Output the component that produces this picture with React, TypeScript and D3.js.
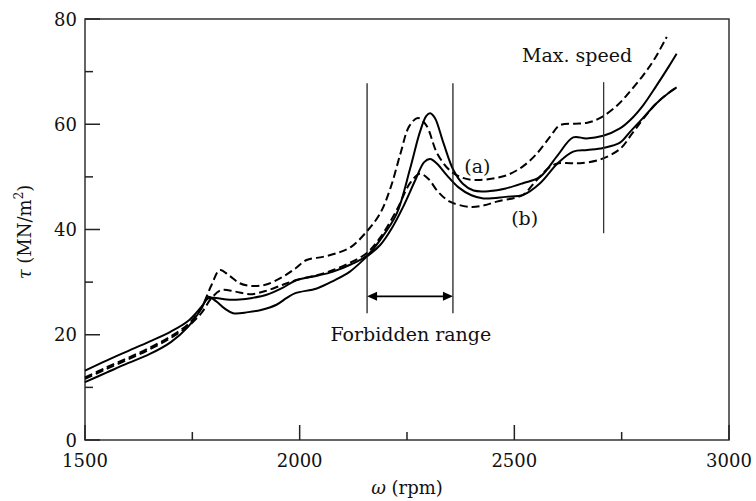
import React from "react";
import * as d3 from "d3";

// ---- data ----
const xTickValues = [1500, 2000, 2500, 3000];
const xMinorTicks = [1750, 2250, 2750];
const yTickValues = [0, 20, 40, 60, 80];
const yMinorTicks = [10, 30, 50, 70];

// (a) dashed
const dashedA_rpm = [1500, 1550, 1600, 1650, 1700, 1740, 1770, 1795, 1814, 1835, 1860, 1885, 1920, 1960, 1990, 2016, 2054, 2090, 2120, 2156, 2187, 2212, 2235, 2255, 2275, 2295, 2320, 2350, 2380, 2410, 2450, 2485, 2520, 2550, 2583, 2606, 2640, 2670, 2700, 2740, 2770, 2800, 2825, 2855];
const dashedA_tau = [11.9, 13.8, 15.6, 17.5, 19.7, 22.0, 25.0, 29.5, 32.3, 31.3, 29.8, 29.3, 29.5, 31.0, 32.6, 34.2, 34.8, 35.6, 36.7, 39.6, 43.0, 48.0, 54.5, 59.6, 61.2, 59.8, 54.5, 51.2, 49.8, 49.4, 49.7, 50.4, 52.0, 54.2, 57.6, 59.8, 60.1, 60.3, 61.2, 63.6, 66.3, 69.3, 72.2, 76.6];

// (a) solid
const solidA_rpm = [1500, 1550, 1600, 1650, 1700, 1740, 1770, 1787, 1805, 1830, 1860, 1890, 1923, 1960, 1993, 2040, 2078, 2120, 2156, 2190, 2226, 2257, 2280, 2295, 2304, 2315, 2335, 2358, 2380, 2405, 2443, 2480, 2520, 2560, 2600, 2637, 2668, 2707, 2746, 2770, 2800, 2830, 2860, 2878];
const solidA_tau = [13.2, 15.1, 16.9, 18.7, 20.6, 22.6, 25.2, 26.9, 27.0, 26.7, 26.7, 27.0, 27.6, 28.9, 30.4, 31.2, 32.0, 33.4, 35.0, 38.3, 43.0, 51.5, 58.5, 61.6, 62.1, 61.2, 56.4, 51.3, 48.7, 47.4, 47.3, 47.8, 48.8, 50.0, 54.0, 57.5, 57.3, 57.8, 59.2, 60.8, 63.6, 67.2, 71.0, 73.4];

// (b) dashed
const dashedB_rpm = [1500, 1550, 1600, 1650, 1700, 1740, 1770, 1795, 1818, 1850, 1884, 1920, 1961, 1993, 2040, 2078, 2120, 2156, 2187, 2226, 2257, 2280, 2300, 2322, 2350, 2397, 2430, 2459, 2500, 2521, 2550, 2583, 2603, 2630, 2653, 2700, 2746, 2775, 2800, 2830, 2860, 2878];
const dashedB_tau = [11.6, 13.5, 15.3, 17.2, 19.4, 21.6, 24.0, 27.0, 28.5, 28.2, 27.7, 28.3, 29.5, 30.4, 31.3, 32.3, 33.8, 35.5, 38.4, 43.7, 48.8, 50.6, 49.6, 47.2, 45.3, 44.3, 44.6, 45.3, 46.0, 46.6, 49.2, 51.9, 52.6, 52.6, 52.6, 53.3, 55.3, 58.3, 61.0, 63.9, 66.0, 67.0];

// (b) solid
const solidB_rpm = [1500, 1550, 1600, 1650, 1700, 1740, 1770, 1787, 1805, 1825, 1845, 1880, 1910, 1946, 1970, 1990, 2040, 2080, 2117, 2156, 2187, 2215, 2241, 2270, 2290, 2304, 2320, 2343, 2370, 2400, 2428, 2480, 2521, 2560, 2600, 2637, 2670, 2707, 2746, 2770, 2800, 2830, 2860, 2878];
const solidB_tau = [11.0, 12.8, 14.6, 16.3, 18.6, 21.5, 24.8, 27.2, 26.4, 25.0, 24.1, 24.3, 24.7, 25.7, 27.0, 27.9, 28.8, 30.3, 32.0, 34.8, 37.0, 40.3, 44.3, 49.5, 52.8, 53.4, 52.5, 50.3, 48.0, 46.5, 45.9, 46.2, 46.6, 48.8, 52.5, 54.8, 55.1, 55.5, 56.5, 58.6, 61.2, 63.9, 66.0, 67.0];

// annotations (data units)
const forbiddenRange = [2157, 2357];
const forbiddenLineSpan = [24.1, 67.8];
const forbiddenArrowTau = 27.3;
const maxSpeedRpm = 2708;
const maxSpeedLineSpan = [39.3, 68.0];

const W = 756;
const H = 501;
const FONT = "DejaVu Serif";

export default function App() {
  const x = d3.scaleLinear().domain([1500, 3000]).range([85, 729]);
  const y = d3.scaleLinear().domain([0, 80]).range([440, 19]);

  const line = d3
    .line<[number, number]>()
    .x((d) => x(d[0]))
    .y((d) => y(d[1]))
    .curve(d3.curveCatmullRom.alpha(0.5));

  const zip = (a: number[], b: number[]) => a.map((v, i) => [v, b[i]] as [number, number]);

  const series = [
    { pts: zip(dashedA_rpm, dashedA_tau), dash: "8,4" },
    { pts: zip(dashedB_rpm, dashedB_tau), dash: "8,4" },
    { pts: zip(solidA_rpm, solidA_tau), dash: undefined },
    { pts: zip(solidB_rpm, solidB_tau), dash: undefined },
  ];

  const ax1 = x(forbiddenRange[0]);
  const ax2 = x(forbiddenRange[1]);
  const ay = y(forbiddenArrowTau);
  const ah = 10;
  const aw = 4.5;

  return (
    <svg
      width={W}
      height={H}
      style={{ position: "absolute", left: 0, top: 0, display: "block", background: "#fff" }}
      fontFamily={FONT}
    >
      {/* frame */}
      <rect x={85} y={19} width={729 - 85} height={440 - 19} fill="none" stroke="#333" strokeWidth={1.5} />

      {/* y ticks */}
      {yTickValues.map((v) => (
        <g key={"y" + v}>
          <line x1={85} x2={100} y1={y(v)} y2={y(v)} stroke="#222" strokeWidth={1.5} />
          <text x={77} y={y(v) + 6.5} textAnchor="end" fontSize={18} fill="#111">
            {v}
          </text>
        </g>
      ))}
      {yMinorTicks.map((v) => (
        <line key={"ym" + v} x1={85} x2={93} y1={y(v)} y2={y(v)} stroke="#222" strokeWidth={1.5} />
      ))}

      {/* x ticks */}
      {xTickValues.map((v) => (
        <g key={"x" + v}>
          <line x1={x(v)} x2={x(v)} y1={440} y2={425} stroke="#222" strokeWidth={1.5} />
          <text x={x(v)} y={467} textAnchor="middle" fontSize={18} fill="#111">
            {v}
          </text>
        </g>
      ))}
      {xMinorTicks.map((v) => (
        <line key={"xm" + v} x1={x(v)} x2={x(v)} y1={440} y2={432} stroke="#222" strokeWidth={1.5} />
      ))}

      {/* axis titles */}
      <text x={407} y={494} textAnchor="middle" fontSize={18} fill="#111">
        <tspan fontStyle="italic">ω</tspan> (rpm)
      </text>
      <text
        transform={`translate(31,232) rotate(-90)`}
        textAnchor="middle"
        fontSize={18}
        fill="#111"
      >
        <tspan fontStyle="italic">τ</tspan> (MN/m<tspan fontSize={12} dy={-8}>2</tspan>
        <tspan dy={8}>)</tspan>
      </text>

      {/* curves */}
      {series.map((s, i) => (
        <path
          key={i}
          d={line(s.pts) || ""}
          fill="none"
          stroke="#000"
          strokeWidth={2}
          strokeDasharray={s.dash}
          strokeLinejoin="round"
        />
      ))}

      {/* forbidden range lines */}
      {forbiddenRange.map((r) => (
        <line
          key={"f" + r}
          x1={x(r)}
          x2={x(r)}
          y1={y(forbiddenLineSpan[0])}
          y2={y(forbiddenLineSpan[1])}
          stroke="#111"
          strokeWidth={1.2}
        />
      ))}
      {/* arrow */}
      <line x1={ax1 + ah - 1} x2={ax2 - ah + 1} y1={ay} y2={ay} stroke="#000" strokeWidth={1.8} />
      <path d={`M${ax1},${ay} L${ax1 + ah},${ay - aw} L${ax1 + ah},${ay + aw} Z`} fill="#000" />
      <path d={`M${ax2},${ay} L${ax2 - ah},${ay - aw} L${ax2 - ah},${ay + aw} Z`} fill="#000" />
      <text x={x(2259)} y={y(18.9)} textAnchor="middle" fontSize={19} fill="#111">
        Forbidden range
      </text>

      {/* max speed */}
      <line
        x1={x(maxSpeedRpm)}
        x2={x(maxSpeedRpm)}
        y1={y(maxSpeedLineSpan[0])}
        y2={y(maxSpeedLineSpan[1])}
        stroke="#333"
        strokeWidth={1.3}
      />
      <text x={x(2646)} y={y(71.8)} textAnchor="middle" fontSize={19} fill="#111">
        Max. speed
      </text>

      {/* labels */}
      <text x={x(2414)} y={y(50.8)} textAnchor="middle" fontSize={19} fill="#111">
        (a)
      </text>
      <text x={x(2524)} y={y(40.8)} textAnchor="middle" fontSize={19} fill="#111">
        (b)
      </text>
    </svg>
  );
}
